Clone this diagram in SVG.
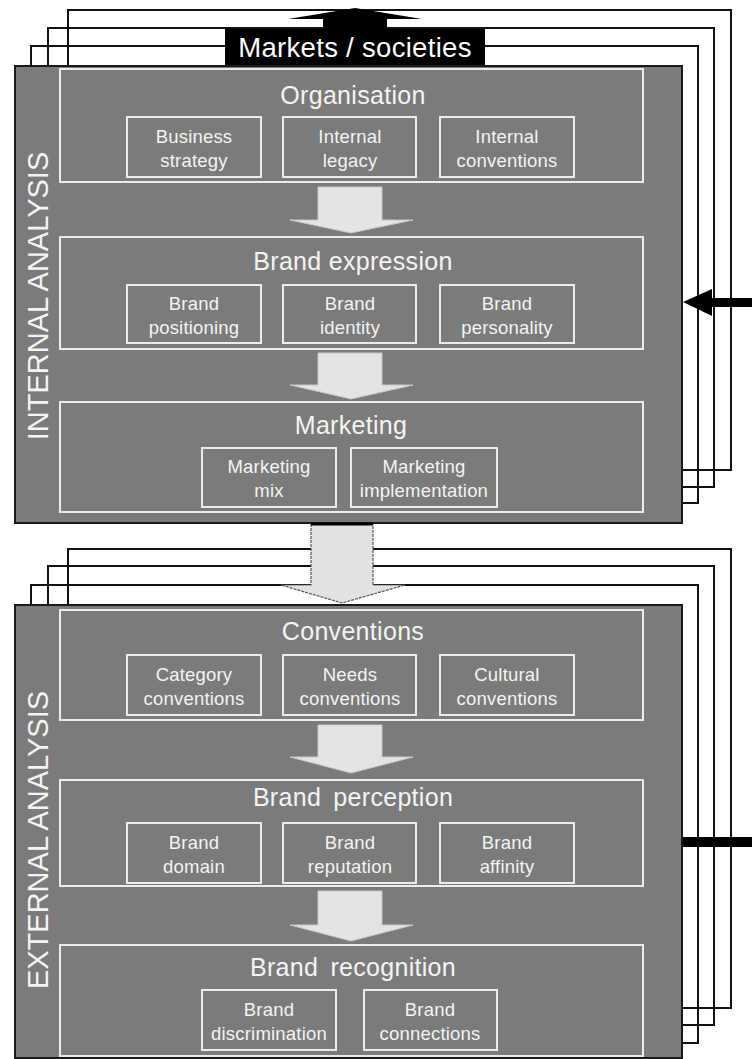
<svg xmlns="http://www.w3.org/2000/svg" width="752" height="1059" viewBox="0 0 752 1059">
<style>
.frame{fill:none;stroke:#111;stroke-width:2}
.panel{fill:#7b7b7b;stroke:#1a1a1a;stroke-width:2}
.box{fill:none;stroke:#ececec;stroke-width:2}
.sub{fill:none;stroke:#ececec;stroke-width:2}
.title{font-family:"Liberation Sans",Arial,sans-serif;font-size:25px;fill:#f4f4f4;text-anchor:middle;letter-spacing:0.3px}
.lbl{font-family:"Liberation Sans",Arial,sans-serif;font-size:18.5px;fill:#f4f4f4;text-anchor:middle;letter-spacing:0.2px}
.side{font-family:"Liberation Sans",Arial,sans-serif;font-size:29px;fill:#f4f4f4;text-anchor:middle}
.darr{fill:#e4e4e4;stroke:#c8c8c8;stroke-width:1}
</style>
<rect width="752" height="1059" fill="#fff"/>

<!-- stacked frames -->
<g id="frames-top">
<rect class="frame" x="68" y="10" width="663" height="460"/>
<rect class="frame" x="48" y="28" width="666" height="459"/>
<rect class="frame" x="31" y="46" width="667" height="457"/>
</g>
<g id="frames-bottom">
<rect class="frame" x="68" y="549" width="663" height="459"/>
<rect class="frame" x="48" y="566" width="666" height="459"/>
<rect class="frame" x="31" y="585" width="667" height="458"/>
</g>

<!-- markets / societies -->
<g id="markets">
<polygon points="323,30 323,19 288,19 355,8 422,19 387,19 387,30" fill="#000"/>
<rect x="225" y="29" width="260" height="37" fill="#000"/>
<text x="355" y="57" font-family="'Liberation Sans',Arial,sans-serif" font-size="27.5" fill="#fff" text-anchor="middle" letter-spacing="0.3">Markets / societies</text>
</g>

<!-- internal panel -->
<g id="internal">
<rect class="panel" x="15" y="66" width="667" height="457"/>
<text class="side" transform="translate(48,296) rotate(-90)">INTERNAL ANALYSIS</text>
</g>
<g id="organisation">
<rect class="box" x="60" y="69" width="583" height="113"/>
<text class="title" x="353" y="104">Organisation</text>
</g>
<g id="business-strategy"><rect class="sub" x="127" y="117" width="134" height="60"/><text class="lbl" x="194" y="143">Business</text><text class="lbl" x="194" y="167">strategy</text></g>
<g id="internal-legacy"><rect class="sub" x="283" y="117" width="133" height="60"/><text class="lbl" x="350" y="143">Internal</text><text class="lbl" x="350" y="167">legacy</text></g>
<g id="internal-conventions"><rect class="sub" x="440" y="117" width="134" height="60"/><text class="lbl" x="507" y="143">Internal</text><text class="lbl" x="507" y="167">conventions</text></g>

<g id="brand-expression">
<rect class="box" x="60" y="237" width="583" height="112"/>
<text class="title" x="353" y="270">Brand expression</text>
</g>
<g id="brand-positioning"><rect class="sub" x="127" y="285" width="134" height="58"/><text class="lbl" x="194" y="310">Brand</text><text class="lbl" x="194" y="334">positioning</text></g>
<g id="brand-identity"><rect class="sub" x="283" y="285" width="133" height="58"/><text class="lbl" x="350" y="310">Brand</text><text class="lbl" x="350" y="334">identity</text></g>
<g id="brand-personality"><rect class="sub" x="440" y="285" width="134" height="58"/><text class="lbl" x="507" y="310">Brand</text><text class="lbl" x="507" y="334">personality</text></g>

<g id="marketing">
<rect class="box" x="60" y="402" width="583" height="110"/>
<text class="title" x="351" y="434">Marketing</text>
</g>
<g id="marketing-mix"><rect class="sub" x="202" y="448" width="134" height="59"/><text class="lbl" x="269" y="473">Marketing</text><text class="lbl" x="269" y="497">mix</text></g>
<g id="marketing-implementation"><rect class="sub" x="351" y="448" width="146" height="59"/><text class="lbl" x="424" y="473">Marketing</text><text class="lbl" x="424" y="497">implementation</text></g>

<!-- external panel -->
<g id="external">
<rect class="panel" x="15" y="605" width="667" height="453"/>
<text class="side" transform="translate(48,840) rotate(-90)">EXTERNAL ANALYSIS</text>
</g>
<g id="conventions">
<rect class="box" x="60" y="610" width="583" height="110"/>
<text class="title" x="353" y="640">Conventions</text>
</g>
<g id="category-conventions"><rect class="sub" x="127" y="655" width="134" height="60"/><text class="lbl" x="194" y="681">Category</text><text class="lbl" x="194" y="705">conventions</text></g>
<g id="needs-conventions"><rect class="sub" x="283" y="655" width="133" height="60"/><text class="lbl" x="350" y="681">Needs</text><text class="lbl" x="350" y="705">conventions</text></g>
<g id="cultural-conventions"><rect class="sub" x="440" y="655" width="134" height="60"/><text class="lbl" x="507" y="681">Cultural</text><text class="lbl" x="507" y="705">conventions</text></g>

<g id="brand-perception">
<rect class="box" x="60" y="780" width="583" height="106"/>
<text class="title" x="353" y="806" word-spacing="5">Brand perception</text>
</g>
<g id="brand-domain"><rect class="sub" x="127" y="823" width="134" height="60"/><text class="lbl" x="194" y="849">Brand</text><text class="lbl" x="194" y="873">domain</text></g>
<g id="brand-reputation"><rect class="sub" x="283" y="823" width="133" height="60"/><text class="lbl" x="350" y="849">Brand</text><text class="lbl" x="350" y="873">reputation</text></g>
<g id="brand-affinity"><rect class="sub" x="440" y="823" width="134" height="60"/><text class="lbl" x="507" y="849">Brand</text><text class="lbl" x="507" y="873">affinity</text></g>

<g id="brand-recognition">
<rect class="box" x="60" y="945" width="583" height="111"/>
<text class="title" x="353" y="976" word-spacing="5">Brand recognition</text>
</g>
<g id="brand-discrimination"><rect class="sub" x="202" y="990" width="134" height="60"/><text class="lbl" x="269" y="1016">Brand</text><text class="lbl" x="269" y="1040">discrimination</text></g>
<g id="brand-connections"><rect class="sub" x="364" y="990" width="133" height="60"/><text class="lbl" x="430" y="1016">Brand</text><text class="lbl" x="430" y="1040">connections</text></g>

<!-- connectors -->
<g id="connectors">
<polygon class="darr" points="318,187 382,187 382,220 413,220 351,233 290,220 318,220"/>
<polygon class="darr" points="318,353 382,353 382,385 413,385 351,399 290,385 318,385"/>
<polygon class="darr" points="318,725 382,725 382,757 413,757 351,773 290,757 318,757"/>
<polygon class="darr" points="318,891 382,891 382,925 413,925 351,941 290,925 318,925"/>
<polygon points="311,524 373,524 373,585 405,585 342,603 281,585 311,585" fill="#e2e2e2" stroke="#555" stroke-width="1.2" stroke-dasharray="3,1"/>
<line x1="311" y1="524" x2="373" y2="524" stroke="#000" stroke-width="3"/>
<polygon points="683,302 712,289 712,298 752,298 752,307 712,307 712,316" fill="#000"/>
<rect x="683" y="837" width="69" height="10" fill="#000"/>
</g>
</svg>
